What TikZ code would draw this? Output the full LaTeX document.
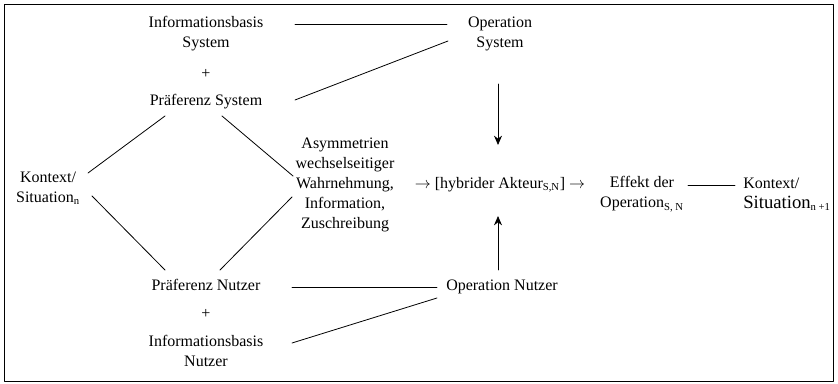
\documentclass[tikz,border=0pt]{standalone}
\usepackage{fontspec}
\setmainfont{Liberation Serif}
\usetikzlibrary{calc,arrows.meta}
\tikzset{txt/.style={align=center,font=\fontsize{12}{15}\selectfont,inner sep=2pt}}
\begin{document}
\begin{tikzpicture}[line join=round,line cap=round,>={Stealth[length=7pt,width=6pt]},x=0.75pt,y=-0.75pt,semithick]
	\useasboundingbox (0,0) rectangle (838,384);
	\draw (4,4) rectangle (833,381);

	\node[txt] (isys) at (206,34) {Informationsbasis\\System};
	\node[txt] (plus1) at (206,74) {+};
	\node[txt] (psys) at (206,102) {Präferenz System};
	\node[txt] (osys) at (500,34) {Operation\\System};
	\node[txt] (kon) at (48,188) {Kontext/\\Situation\textsubscript{n}};
	\node[txt] (asym) at (345,185) {Asymmetrien\\wechselseitiger\\Wahrnehmung,\\Information,\\Zuschreibung};
	\node[txt] (akt) at (500,185) {$\rightarrow$ [hybrider Akteur\textsubscript{S,N}] $\rightarrow$};
	\node[txt] (eff) at (642,194) {Effekt der\\Operation\textsubscript{S, N}};
	\node[txt,align=left] (kon2) at (787,194) {Kontext/\\{\fontsize{14}{15}\selectfont Situation}\textsubscript{n +1}};
	\node[txt] (onut) at (502,287) {Operation Nutzer};
	\node[txt] (pnut) at (206,285) {Präferenz Nutzer};
	\node[txt] (plus2) at (206,314) {+};
	\node[txt] (inut) at (206,351) {Informationsbasis\\Nutzer};

	\draw ($(isys)+(89,-10)$)--($(osys)+(-53,-10)$);
	\draw ($(psys)+(89,-2)$)--($(osys)+(-52,7)$);
	\draw ($(psys)+(-41,14)$)--($(kon)+(40,-15)$);
	\draw ($(psys)+(16,14)$)--($(asym)+(-52,-9)$);
	\draw ($(kon)+(44,8)$)--($(pnut)+(-41,-15)$);
	\draw ($(asym)+(-53,12)$)--($(pnut)+(14,-15)$);
	\draw[->] ($(osys)+(-2,50)$)--($(akt)+(-2,-40)$);
	\draw[->] ($(onut)+(-4,-17)$)--($(akt)+(-2,31)$);
	\draw ($(eff)+(46,-9)$)--($(kon2)+(-52,-9)$);
	\draw ($(pnut)+(86,2)$)--($(onut)+(-65,0)$);
	\draw ($(inut)+(86,-8)$)--($(onut)+(-65,11)$);
\end{tikzpicture}
\end{document}
